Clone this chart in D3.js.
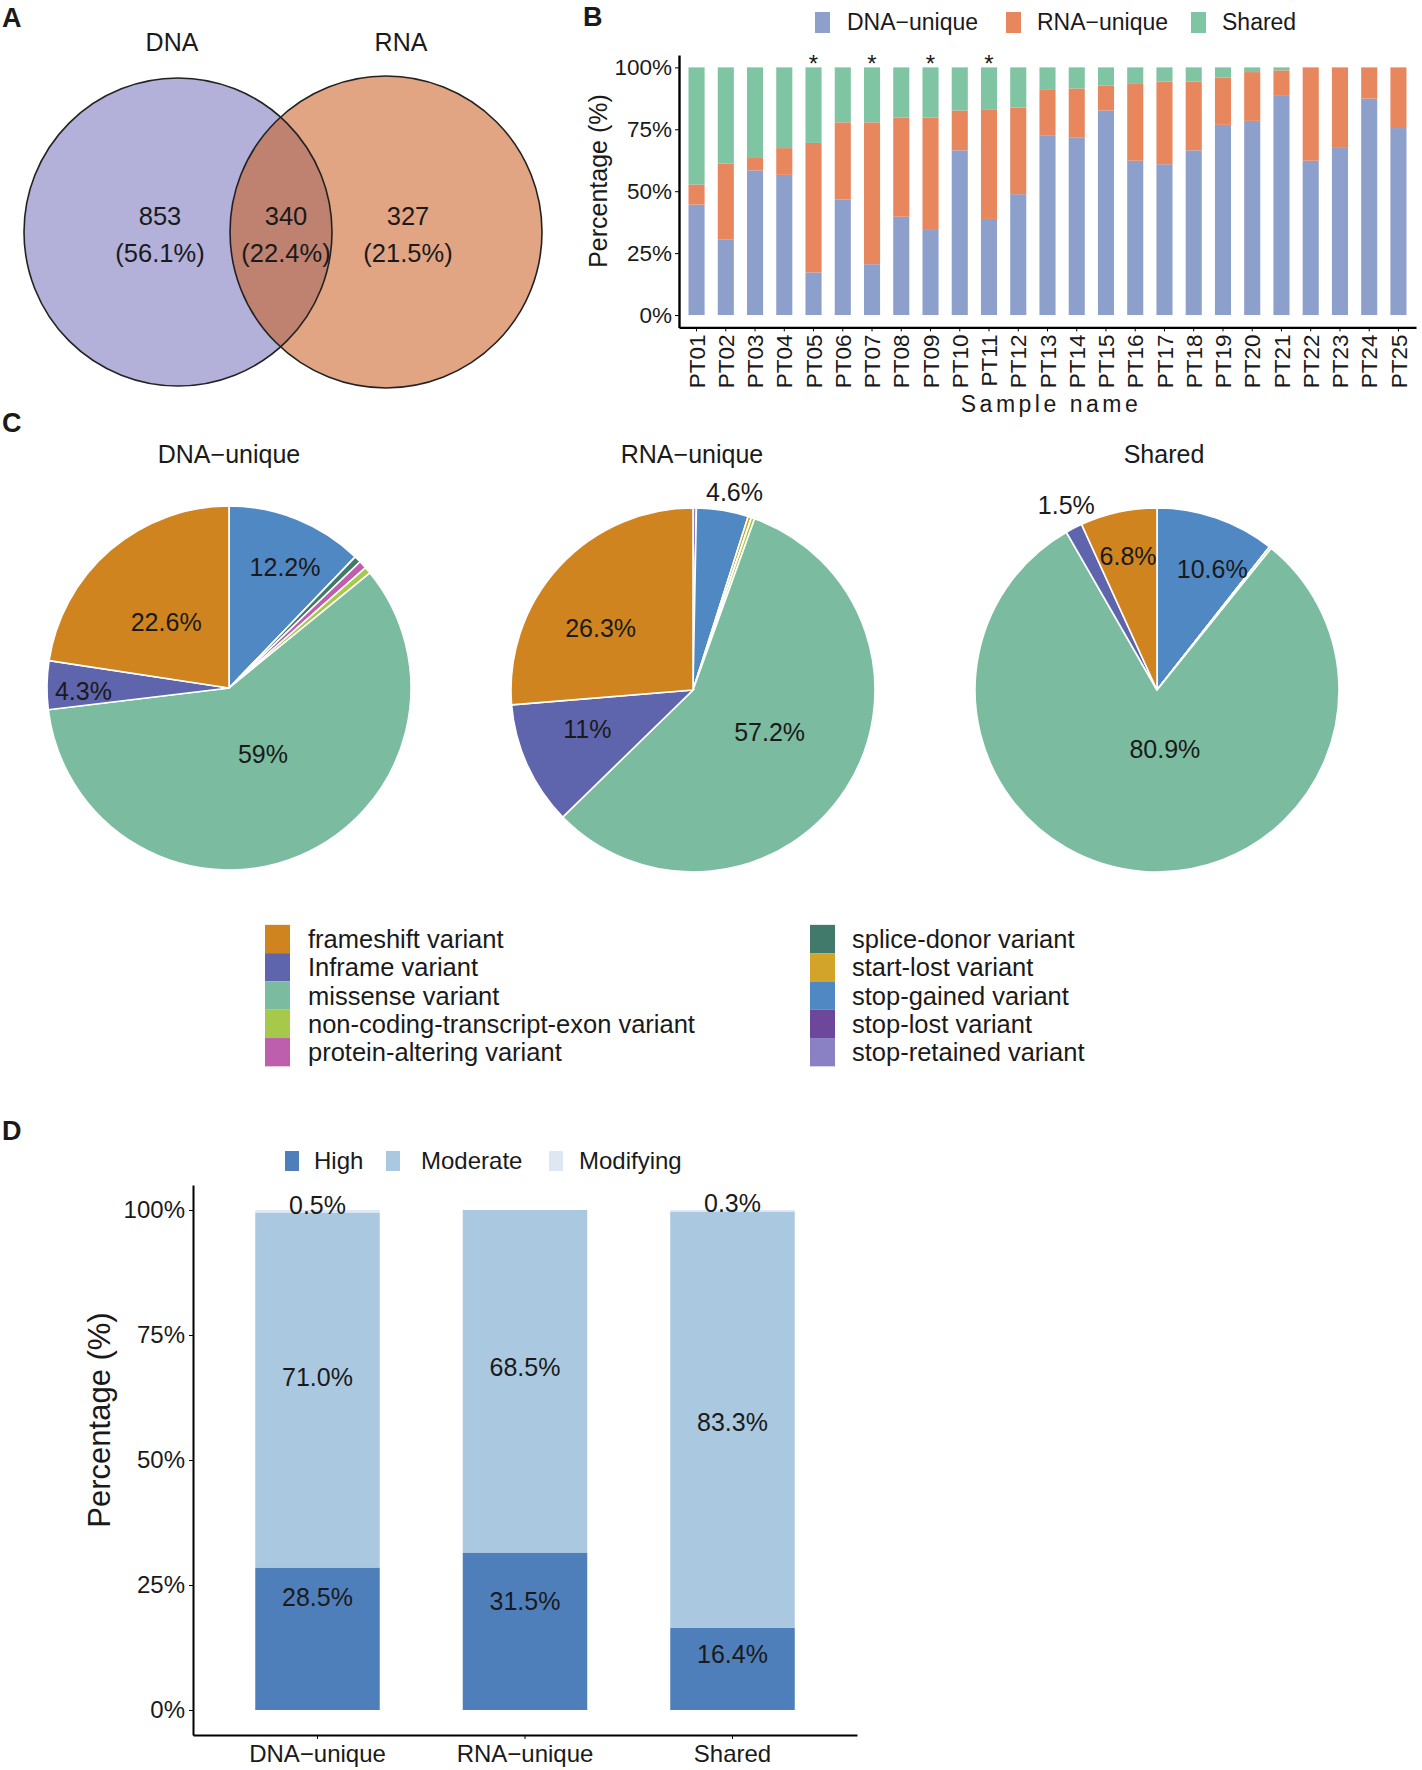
<!DOCTYPE html>
<html>
<head>
<meta charset="utf-8">
<script src="https://d3js.org/d3.v7.min.js"></script>
<style>
  body { margin: 0; background: #fff; }
  text { font-family: "Liberation Sans", Arial, sans-serif; fill: #1a1a1a; }
</style>
</head>
<body>
<svg id="fig" width="1422" height="1770"></svg>
<script>
// ---- data ----
var vennSets = ["DNA", "RNA"];
var vennCounts = [853, 340, 327];   // DNA only, both, RNA only

var samples = ["PT01","PT02","PT03","PT04","PT05","PT06","PT07","PT08","PT09","PT10",
  "PT11","PT12","PT13","PT14","PT15","PT16","PT17","PT18","PT19","PT20",
  "PT21","PT22","PT23","PT24","PT25"];
var dnaUnique = [44.6, 30.4, 58.4, 56.6, 17.2, 46.6, 20.5, 39.7, 34.7, 66.5,
  38.8, 48.8, 72.6, 71.6, 82.6, 62.3, 60.9, 66.5, 76.8, 78.4,
  88.5, 62.3, 67.8, 87.4, 75.5];
var rnaUnique = [8.1, 30.7, 5.0, 10.8, 52.3, 31.2, 57.3, 40.0, 45.0, 16.1,
  44.3, 35.0, 18.3, 19.9, 10.0, 31.3, 33.4, 27.8, 19.1, 19.7,
  10.3, 37.7, 32.2, 12.6, 24.5];
var sharedPct = [47.3, 38.9, 36.6, 32.6, 30.5, 22.2, 22.2, 20.3, 20.3, 17.4,
  16.9, 16.2, 9.1, 8.5, 7.4, 6.4, 5.7, 5.7, 4.1, 1.9,
  1.2, 0, 0, 0, 0];
var starred = ["PT05", "PT07", "PT09", "PT11"];

var originKeys = ["dna", "rna", "shared"];
var originLabels = ["DNA\u2212unique", "RNA\u2212unique", "Shared"];

var variantTypes = ["frameshift variant", "Inframe variant", "missense variant",
  "non-coding-transcript-exon variant", "protein-altering variant",
  "splice-donor variant", "start-lost variant", "stop-gained variant",
  "stop-lost variant", "stop-retained variant"];
var pieDNA    = [22.6, 4.3, 59, 0.6, 0.7, 0.6, 0, 12.2, 0, 0];
var pieRNA    = [26.3, 11, 57.2, 0.3, 0, 0, 0.3, 4.6, 0, 0.3];
var pieShared = [6.8, 1.5, 80.9, 0.2, 0, 0, 0, 10.6, 0, 0];

var impactLevels = ["High", "Moderate", "Modifying"];
var impactHigh      = [28.5, 31.5, 16.4];
var impactModerate  = [71.0, 68.5, 83.3];
var impactModifying = [0.5, 0, 0.3];

// ---- styles / layout ----
var originColors = ["#8d9fcb", "#e8875e", "#7fc4a3"];
var variantColors = ["#d0841f", "#5f65ad", "#7bbca0", "#a6c94a", "#be5fae",
  "#417a6a", "#d2a42a", "#5088c4", "#6c479c", "#8a80c4"];
var impactColors = ["#4f7fba", "#aac9e0", "#dde8f4"];

// pie label placement, aligned with variantTypes: radius fraction (null = no label)
// and a small angle nudge in degrees
var pieLabelR = [
  [0.5, 0.8, 0.41, null, null, null, null, 0.73, null, null],
  [0.61, 0.62, 0.48, null, null, null, null, 1.11, null, null],
  [0.75, 1.13, 0.33, null, null, null, null, 0.73, null, null]
];
var pieLabelTurn = [
  [-3, -2, -4, 0, 0, 0, 0, 3, 0, 0],
  [-9, 4, -4, 0, 0, 0, 0, 2.5, 0, 0],
  [0, 1, -12, 0, 0, 0, 0, 5.5, 0, 0]
];
var pieTitleX = [229, 692, 1164];
// label heights (in %) for panel D, per impact level
var impactLabelAt = [[22.6, 21.8, 11.2], [66.6, 68.6, 57.6], [100.9, null, 101.4]];

var svg = d3.select("#fig");
svg.append("rect").attr("width", 1422).attr("height", 1770).attr("fill", "#fff");

function letter(t, x, y) {
  svg.append("text").attr("x", x).attr("y", y)
    .attr("font-size", 27).attr("font-weight", "bold").text(t);
}
letter("A", 2, 27);
letter("B", 583, 26);
letter("C", 2, 432);
letter("D", 2, 1140);

// ---- A: venn ----
var vennTotal = d3.sum(vennCounts);
var pct1 = d3.format(".1f");
var circ = [{cx: 178, cy: 232, r: 154, fill: "#b3b0d9"},
            {cx: 386, cy: 232, r: 156, fill: "#e2a583"}];
svg.append("clipPath").attr("id", "leftClip")
  .append("circle").attr("cx", circ[0].cx).attr("cy", circ[0].cy).attr("r", circ[0].r);
var venn = svg.append("g");
venn.selectAll("circle.fillc").data(circ).enter().append("circle")
  .attr("cx", function(d) { return d.cx; })
  .attr("cy", function(d) { return d.cy; })
  .attr("r", function(d) { return d.r; })
  .attr("fill", function(d) { return d.fill; });
venn.append("circle").attr("clip-path", "url(#leftClip)")
  .attr("cx", circ[1].cx).attr("cy", circ[1].cy).attr("r", circ[1].r)
  .attr("fill", "#bf8170");
venn.selectAll("circle.edge").data(circ).enter().append("circle")
  .attr("cx", function(d) { return d.cx; })
  .attr("cy", function(d) { return d.cy; })
  .attr("r", function(d) { return d.r; })
  .attr("fill", "none").attr("stroke", "#222").attr("stroke-width", 1.6);

venn.selectAll("text.set").data(vennSets).enter().append("text")
  .attr("x", function(d, i) { return i === 0 ? 172 : 401; })
  .attr("y", 51).attr("text-anchor", "middle").attr("font-size", 25)
  .text(function(d) { return d; });
var vennTextX = [160, 286, 408];
vennCounts.forEach(function(c, i) {
  venn.append("text").attr("x", vennTextX[i]).attr("y", 225)
    .attr("text-anchor", "middle").attr("font-size", 25.5).text(c);
  venn.append("text").attr("x", vennTextX[i]).attr("y", 262)
    .attr("text-anchor", "middle").attr("font-size", 25.5)
    .text("(" + pct1(c / vennTotal * 100) + "%)");
});

// ---- B: stacked bars per sample ----
var rowsB = samples.map(function(s, i) {
  return {sample: s, dna: dnaUnique[i], rna: rnaUnique[i], shared: sharedPct[i]};
});
var bx = d3.scaleBand().domain(samples).range([679, 1416]).paddingInner(0.45).paddingOuter(0.325);
var by = d3.scaleLinear().domain([-5, 105]).range([327.4, 55]);
var stackB = d3.stack().keys(originKeys)(rowsB);

var gB = svg.append("g");
gB.selectAll("g.layer").data(stackB).enter().append("g")
  .attr("fill", function(d, i) { return originColors[i]; })
  .selectAll("rect").data(function(d) { return d; }).enter().append("rect")
  .attr("x", function(d) { return bx(d.data.sample); })
  .attr("width", bx.bandwidth())
  .attr("y", function(d) { return by(d[1]); })
  .attr("height", function(d) { return Math.max(0, by(d[0]) - by(d[1])); });

var yAxB = gB.append("g").attr("transform", "translate(679,0)")
  .call(d3.axisLeft(by).tickValues([0, 25, 50, 75, 100])
    .tickFormat(function(d) { return d + "%"; }).tickSize(4).tickSizeOuter(0).tickPadding(3));
yAxB.attr("font-size", 22.5);
yAxB.select(".domain").attr("stroke-width", 2.4);
yAxB.selectAll("text").attr("fill", "#1a1a1a");

var xAxB = gB.append("g").attr("transform", "translate(0," + by(-5) + ")")
  .call(d3.axisBottom(bx).tickSize(4).tickSizeOuter(0));
xAxB.attr("font-size", 22.5);
xAxB.select(".domain").attr("stroke-width", 2.4);
xAxB.selectAll("text")
  .attr("transform", "rotate(-90)")
  .attr("x", -7).attr("y", 0).attr("dy", "0.36em")
  .attr("text-anchor", "end").attr("fill", "#1a1a1a");

gB.append("text").attr("transform", "translate(598,181) rotate(-90)")
  .attr("text-anchor", "middle").attr("dy", "0.35em").attr("font-size", 25)
  .text("Percentage (%)");
gB.append("text").attr("x", 1051).attr("y", 412).attr("text-anchor", "middle")
  .attr("font-size", 23).attr("letter-spacing", 3.5).text("Sample name");
gB.selectAll("text.star").data(starred).enter().append("text")
  .attr("x", function(d) { return bx(d) + bx.bandwidth() / 2; })
  .attr("y", 72).attr("text-anchor", "middle").attr("font-size", 24)
  .text("*");

var legB = [{x: 815, tx: 847}, {x: 1006, tx: 1037}, {x: 1191, tx: 1222}];
originLabels.forEach(function(lab, i) {
  gB.append("rect").attr("x", legB[i].x).attr("y", 12).attr("width", 15).attr("height", 21)
    .attr("fill", originColors[i]);
  gB.append("text").attr("x", legB[i].tx).attr("y", 22).attr("dy", "0.35em")
    .attr("font-size", 23).text(lab);
});

// ---- C: pies ----
var pieSets = [
  {title: originLabels[0], values: pieDNA, cx: 229, cy: 688},
  {title: originLabels[1], values: pieRNA, cx: 693, cy: 690},
  {title: originLabels[2], values: pieShared, cx: 1157, cy: 690}
];
var pieR = 182;
var pie = d3.pie().sort(null).value(function(d) { return d.value; });
var arc = d3.arc().innerRadius(0).outerRadius(pieR);

pieSets.forEach(function(p, k) {
  var items = variantTypes.map(function(t, i) {
    return {type: t, idx: i, value: p.values[i]};
  }).reverse();
  var g = svg.append("g").attr("transform", "translate(" + p.cx + "," + p.cy + ")");
  var arcs = pie(items);
  g.selectAll("path").data(arcs).enter().append("path")
    .attr("d", arc)
    .attr("fill", function(d) { return variantColors[d.data.idx]; })
    .attr("stroke", "#fff").attr("stroke-width", 1.6);

  function labelAngle(d) {
    return (d.startAngle + d.endAngle) / 2 + pieLabelTurn[k][d.data.idx] * Math.PI / 180;
  }
  g.selectAll("text.lab").data(arcs.filter(function(d) {
      return pieLabelR[k][d.data.idx] != null;
    })).enter().append("text")
    .attr("x", function(d) { return Math.sin(labelAngle(d)) * pieR * pieLabelR[k][d.data.idx]; })
    .attr("y", function(d) { return -Math.cos(labelAngle(d)) * pieR * pieLabelR[k][d.data.idx]; })
    .attr("text-anchor", "middle").attr("dy", "0.35em").attr("font-size", 25)
    .text(function(d) { return d.data.value + "%"; });
  svg.append("text").attr("x", pieTitleX[k]).attr("y", 463).attr("text-anchor", "middle")
    .attr("font-size", 25).text(p.title);
});

// legend for pies
var legC = svg.append("g");
variantTypes.forEach(function(t, i) {
  var col = i < 5 ? 0 : 1, row = i % 5;
  var kx = col === 0 ? 265 : 810, tx = col === 0 ? 308 : 852;
  var cy = 939 + row * 28.3;
  legC.append("rect").attr("x", kx).attr("y", cy - 14.15).attr("width", 25).attr("height", 28.3)
    .attr("fill", variantColors[i]);
  legC.append("text").attr("x", tx).attr("y", cy).attr("dy", "0.35em")
    .attr("font-size", 25.5).text(t);
});

// ---- D: impact bars ----
var rowsD = originKeys.map(function(k, i) {
  return {group: originLabels[i], High: impactHigh[i], Moderate: impactModerate[i], Modifying: impactModifying[i]};
});
var dxs = d3.scaleBand().domain(originLabels).range([193, 857]).paddingInner(0.4).paddingOuter(0.3);
var dys = d3.scaleLinear().domain([-5, 105]).range([1735, 1185]);
var stackD = d3.stack().keys(impactLevels)(rowsD);

var gD = svg.append("g");
gD.selectAll("g.layer").data(stackD).enter().append("g")
  .attr("fill", function(d, i) { return impactColors[i]; })
  .selectAll("rect").data(function(d) { return d; }).enter().append("rect")
  .attr("x", function(d) { return dxs(d.data.group); })
  .attr("width", dxs.bandwidth())
  .attr("y", function(d) { return dys(d[1]); })
  .attr("height", function(d) { return Math.max(0, dys(d[0]) - dys(d[1])); });

stackD.forEach(function(layer, li) {
  layer.forEach(function(d, gi) {
    var v = d[1] - d[0];
    if (!v || impactLabelAt[li][gi] == null) return;
    gD.append("text")
      .attr("x", dxs(d.data.group) + dxs.bandwidth() / 2)
      .attr("y", dys(impactLabelAt[li][gi]))
      .attr("dy", "0.35em").attr("text-anchor", "middle").attr("font-size", 25)
      .text(pct1(v) + "%");
  });
});

var yAxD = gD.append("g").attr("transform", "translate(193,0)")
  .call(d3.axisLeft(dys).tickValues([0, 25, 50, 75, 100])
    .tickFormat(function(d) { return d + "%"; }).tickSize(4).tickSizeOuter(0).tickPadding(4));
yAxD.attr("font-size", 24);
yAxD.select(".domain").attr("stroke-width", 2);
yAxD.selectAll("text").attr("fill", "#1a1a1a");

var xAxD = gD.append("g").attr("transform", "translate(0,1735)")
  .call(d3.axisBottom(dxs).tickSize(4).tickSizeOuter(0).tickPadding(6));
xAxD.attr("font-size", 24);
xAxD.select(".domain").attr("stroke-width", 2);
xAxD.selectAll("text").attr("fill", "#1a1a1a");

gD.append("text").attr("transform", "translate(99,1420) rotate(-90)")
  .attr("text-anchor", "middle").attr("dy", "0.35em").attr("font-size", 31)
  .text("Percentage (%)");

var legD = [{x: 285, tx: 314}, {x: 386, tx: 421}, {x: 549, tx: 579}];
impactLevels.forEach(function(lab, i) {
  gD.append("rect").attr("x", legD[i].x).attr("y", 1151).attr("width", 14).attr("height", 20)
    .attr("fill", impactColors[i]);
  gD.append("text").attr("x", legD[i].tx).attr("y", 1161).attr("dy", "0.35em")
    .attr("font-size", 24).text(lab);
});
</script>
</body>
</html>
